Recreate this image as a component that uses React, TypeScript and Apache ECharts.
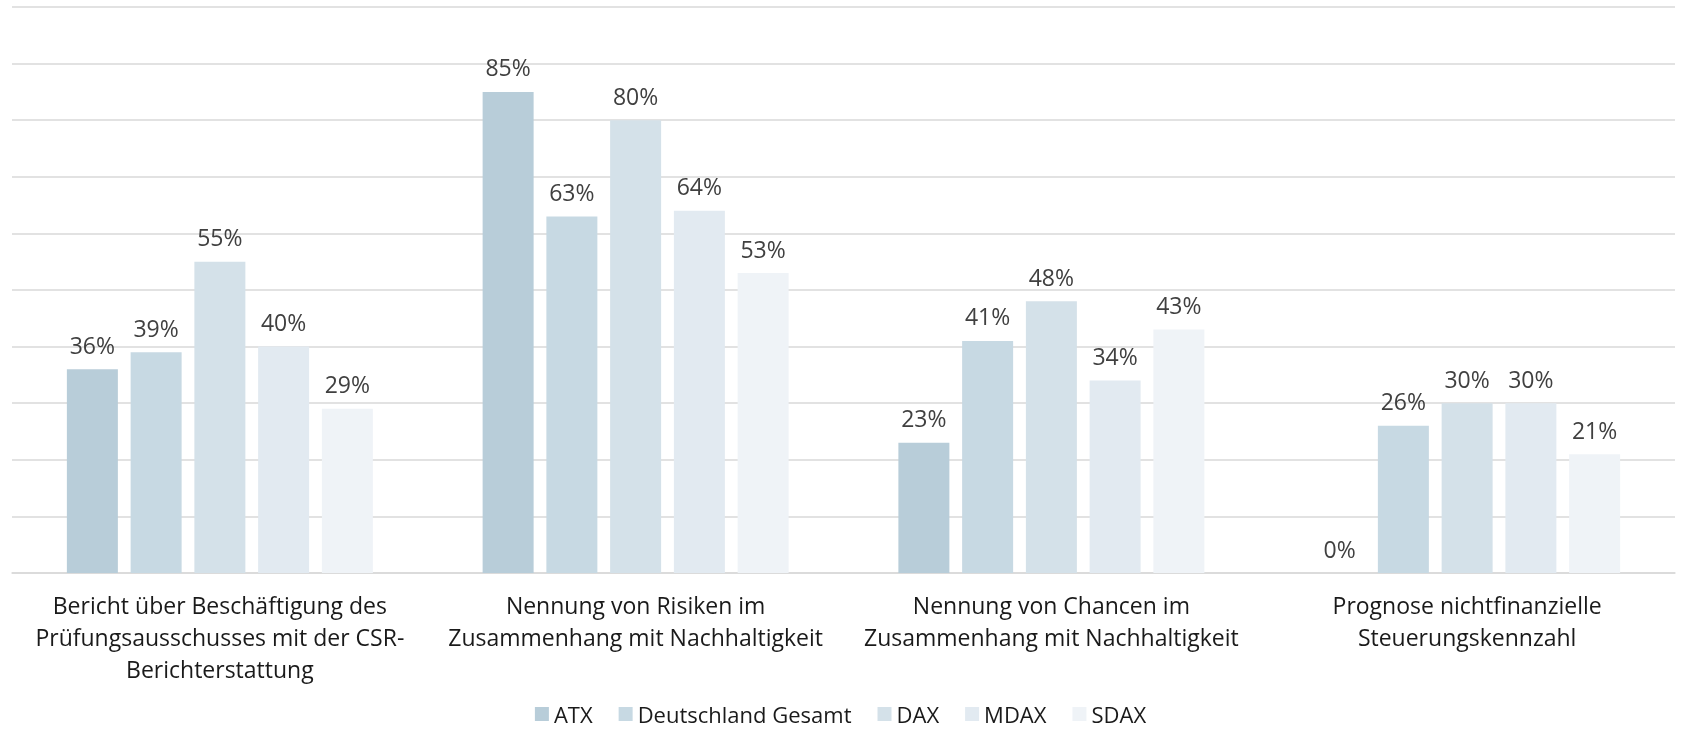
import React, { useEffect, useRef } from "react";
import * as echarts from "echarts";

const categories = [
  "Bericht über Beschäftigung des\nPrüfungsausschusses mit der CSR-\nBerichterstattung",
  "Nennung von Risiken im\nZusammenhang mit Nachhaltigkeit",
  "Nennung von Chancen im\nZusammenhang mit Nachhaltigkeit",
  "Prognose nichtfinanzielle\nSteuerungskennzahl",
];

const seriesNames = ["ATX", "Deutschland Gesamt", "DAX", "MDAX", "SDAX"];
const atx = [36, 85, 23, 0];
const deutschland = [39, 63, 41, 26];
const dax = [55, 80, 48, 30];
const mdax = [40, 64, 34, 30];
const sdax = [29, 53, 43, 21];
const seriesValues = [atx, deutschland, dax, mdax, sdax];
const colors = ["#b8cdd9", "#c7d9e3", "#d4e1e9", "#e2eaf1", "#eff3f7"];

const FONT = "'Open Sans', Roboto, sans-serif";

export default function App() {
  const ref = useRef<HTMLDivElement>(null);

  useEffect(() => {
    if (!ref.current) return;
    const chart = echarts.init(ref.current, undefined, { renderer: "svg" });
    chart.setOption({
      animation: false,
      textStyle: { fontFamily: FONT },
      grid: { left: 12, right: 6, top: 7, bottom: 160, containLabel: false },
      legend: {
        data: seriesNames,
        top: 703,
        left: "center",
        padding: 0,
        icon: "rect",
        itemWidth: 14,
        itemHeight: 14,
        itemGap: 26,
        textStyle: { fontSize: 22, color: "#1a1a1a", fontFamily: FONT, lineHeight: 22 },
      },
      xAxis: {
        type: "category",
        data: categories,
        axisLine: { show: true, lineStyle: { color: "#d9d9d9", width: 1.5 } },
        axisTick: { show: false },
        axisLabel: {
          interval: 0,
          margin: 16,
          fontSize: 23,
          lineHeight: 32,
          color: "#1a1a1a",
          fontFamily: FONT,
          align: "center",
        },
      },
      yAxis: {
        type: "value",
        min: 0,
        max: 100,
        interval: 10,
        axisLabel: { show: false },
        axisLine: { show: false },
        axisTick: { show: false },
        splitLine: { lineStyle: { color: "#d9d9d9", width: 1.5 } },
      },
      series: seriesNames.map((name, i) => ({
        name,
        type: "bar",
        data: seriesValues[i],
        barWidth: 51,
        barGap: "25%",
        itemStyle: { color: colors[i] },
        label: {
          show: true,
          position: "top",
          distance: 13,
          formatter: "{c}%",
          fontSize: 23,
          color: "#404040",
          fontFamily: FONT,
        },
      })),
    });
    return () => chart.dispose();
  }, []);

  return (
    <div
      ref={ref}
      style={{ position: "fixed", left: 0, top: 0, width: 1681, height: 733 }}
    />
  );
}
